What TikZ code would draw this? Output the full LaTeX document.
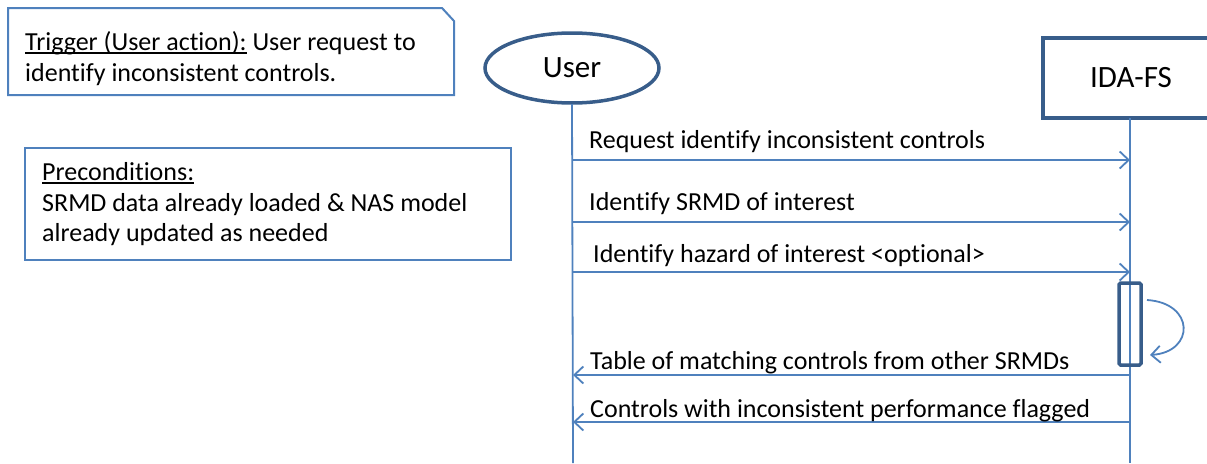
\documentclass[tikz,border=0pt]{standalone}
\usepackage{fontspec}
\setmainfont{Carlito}[Ligatures=NoCommon]
\usetikzlibrary{arrows.meta,shapes.geometric}
\definecolor{msgblue}{HTML}{4F81BD}
\definecolor{darkblue}{HTML}{385D8A}
% underline set close under the baseline
\newcommand\uln[1]{\setbox0\hbox{#1}\rlap{\rule[-3.5pt]{\wd0}{1.3pt}}\box0\relax}
\tikzset{
  every node/.style={font=\fontsize{26}{30}\selectfont, text=black, inner sep=0pt},
  note/.style={draw=msgblue, line width=2pt},
  actor/.style={draw=darkblue, line width=3.5pt, font=\fontsize{31}{36}\selectfont},
  lifeline/.style={draw=msgblue, line width=1.8pt},
  msg/.style={draw=msgblue, line width=1.8pt, -{Straight Barb[length=9pt,width=17pt,line width=1.8pt]}},
  label/.style={anchor=base west},
}
\begin{document}
\begin{tikzpicture}[x=1pt,y=-1pt]
\useasboundingbox (0,0) rectangle (1207,463);
\clip (0,0) rectangle (1207,463);

% trigger note with snipped corner
\draw[note] (8,8) -- (442,8) -- (454,21) -- (454,95) -- (8,95) -- cycle;
\node[label] (trig1) at (25,50) {\uln{Trigger (User action):} User request to};
\node[label] (trig2) at (25,81) {identify inconsistent controls.};

% preconditions note
\draw[note] (25,148) rectangle (511,260);
\node[label] (pre1) at (42,180) {\uln{Preconditions:}};
\node[label] (pre2) at (42,211) {SRMD data already loaded \& NAS model};
\node[label] (pre3) at (42,241) {already updated as needed};

% participants
\node[actor, ellipse, minimum width=174pt, minimum height=70pt] (user) at (572,68) {User};
\node[actor, rectangle, minimum width=176pt, minimum height=80pt] (ida) at (1131,78) {IDA-FS};

% lifelines
\coordinate (uend) at (573,463);
\coordinate (iend) at (1130,463);
\draw[lifeline] (user.south |- 0,104) -- (uend);
\draw[lifeline] (1130,118) -- (iend);

% activation bar
\node[draw=darkblue, line width=3.5pt, rounded corners=1.5pt, minimum width=22pt, minimum height=82pt] (act) at (1130,324) {};

% self call
\coordinate (s1) at (1147,300);
\coordinate (s2) at (1150,355);
\draw[msg] (s1) .. controls (1195,303) and (1195,352) .. (s2);

% messages
\foreach \n/\y in {1/160,2/222,3/272,4/375,5/422}{
  \coordinate (u\n) at (573,\y);
  \coordinate (i\n) at (1130,\y);
}
\draw[msg] (u1) -- (i1);
\draw[msg] (u2) -- (i2);
\draw[msg] (u3) -- (i3);
\draw[msg] (i4) -- (u4);
\draw[msg] (i5) -- (u5);

\node[label] (m1) at (589,148) {Request identify inconsistent controls};
\node[label] (m2) at (589,210) {Identify SRMD of interest};
\node[label] (m3) at (593,262) {Identify hazard of interest <optional>};
\node[label] (m4) at (590,369) {Table of matching controls from other SRMDs};
\node[label] (m5) at (590,417) {Controls with inconsistent performance flagged};
\end{tikzpicture}
\end{document}
